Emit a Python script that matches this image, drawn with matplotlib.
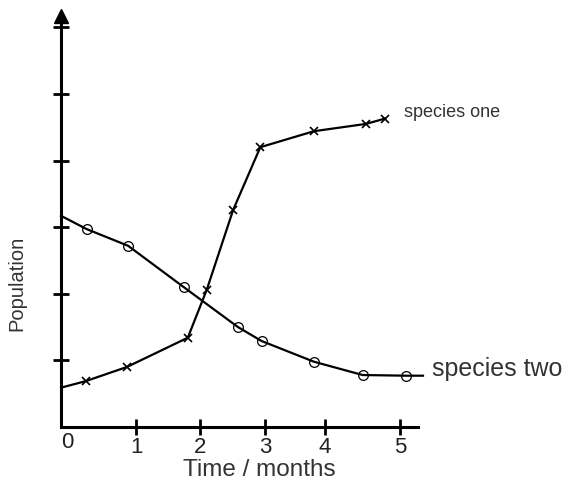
import matplotlib
matplotlib.use("Agg")
import matplotlib.pyplot as plt

plt.rcParams['font.family'] = ['Liberation Sans', 'DejaVu Sans']

# species one (crosses) - time in months, population in axis units
time_one = [0.0, 0.37, 0.97, 1.87, 2.15, 2.54, 2.94, 3.73, 4.50, 4.78]
pop_one = [0.59, 0.69, 0.90, 1.34, 2.06, 3.26, 4.20, 4.44, 4.55, 4.63]

# species two (circles)
time_two = [0.0, 0.38, 0.99, 1.81, 2.61, 2.96, 3.73, 4.45, 5.09, 5.34]
pop_two = [3.17, 2.97, 2.72, 2.10, 1.50, 1.29, 0.98, 0.78, 0.77, 0.77]

# hand drawn tick positions on the time axis
xtick_pos = [1.11, 2.05, 3.01, 3.89, 5.0]
xtick_labels = ['1', '2', '3', '4', '5']
ytick_pos = [1, 2, 3, 4, 5, 6]

fig = plt.figure(figsize=(5.64, 4.82), dpi=100)
ax = fig.add_axes([0, 0, 1, 1])
ax.set_xlim(-0.9, 7.42)
ax.set_ylim(-0.826, 6.41)

ax.plot(time_one, pop_one, color='black', lw=1.6, marker='x', ms=6, mew=1.2,
        markevery=list(range(1, len(time_one))))
ax.plot(time_two, pop_two, color='black', lw=1.6, marker='o', ms=7, mfc='none',
        mew=0.9, markevery=list(range(1, len(time_two) - 1)))

# axes
for s in ['top', 'right']:
    ax.spines[s].set_visible(False)
ax.spines['left'].set_position(('data', 0))
ax.spines['bottom'].set_position(('data', 0))
ax.spines['left'].set_bounds(0, 6.15)
ax.spines['bottom'].set_bounds(0, 5.27)
ax.spines['left'].set_linewidth(2.2)
ax.spines['bottom'].set_linewidth(2.2)
ax.plot([0], [6.17], marker='^', ms=10, color='black', clip_on=False)

ax.set_xticks(xtick_pos)
ax.set_xticklabels(xtick_labels)
ax.set_yticks(ytick_pos)
ax.set_yticklabels([])
ax.tick_params(axis='both', direction='inout', length=12, width=2, color='black')
ax.tick_params(axis='x', labelsize=16, pad=1, labelcolor='#222222')
ax.text(0.1, -0.08, '0', fontsize=16, color='#222222', ha='center', va='top')

ax.text(-0.65, 2.16, 'Population', rotation=90, fontsize=14.5, color='#333333',
        ha='center', va='center')
ax.text(2.93, -0.65, 'Time / months', fontsize=17.5, color='#333333',
        ha='center', va='center')
ax.text(5.06, 4.72, 'species one', fontsize=13, color='#333333',
        ha='left', va='center')
ax.text(5.47, 0.87, 'species two', fontsize=18, color='#333333',
        ha='left', va='center')

fig.savefig('out.png', dpi=100)
